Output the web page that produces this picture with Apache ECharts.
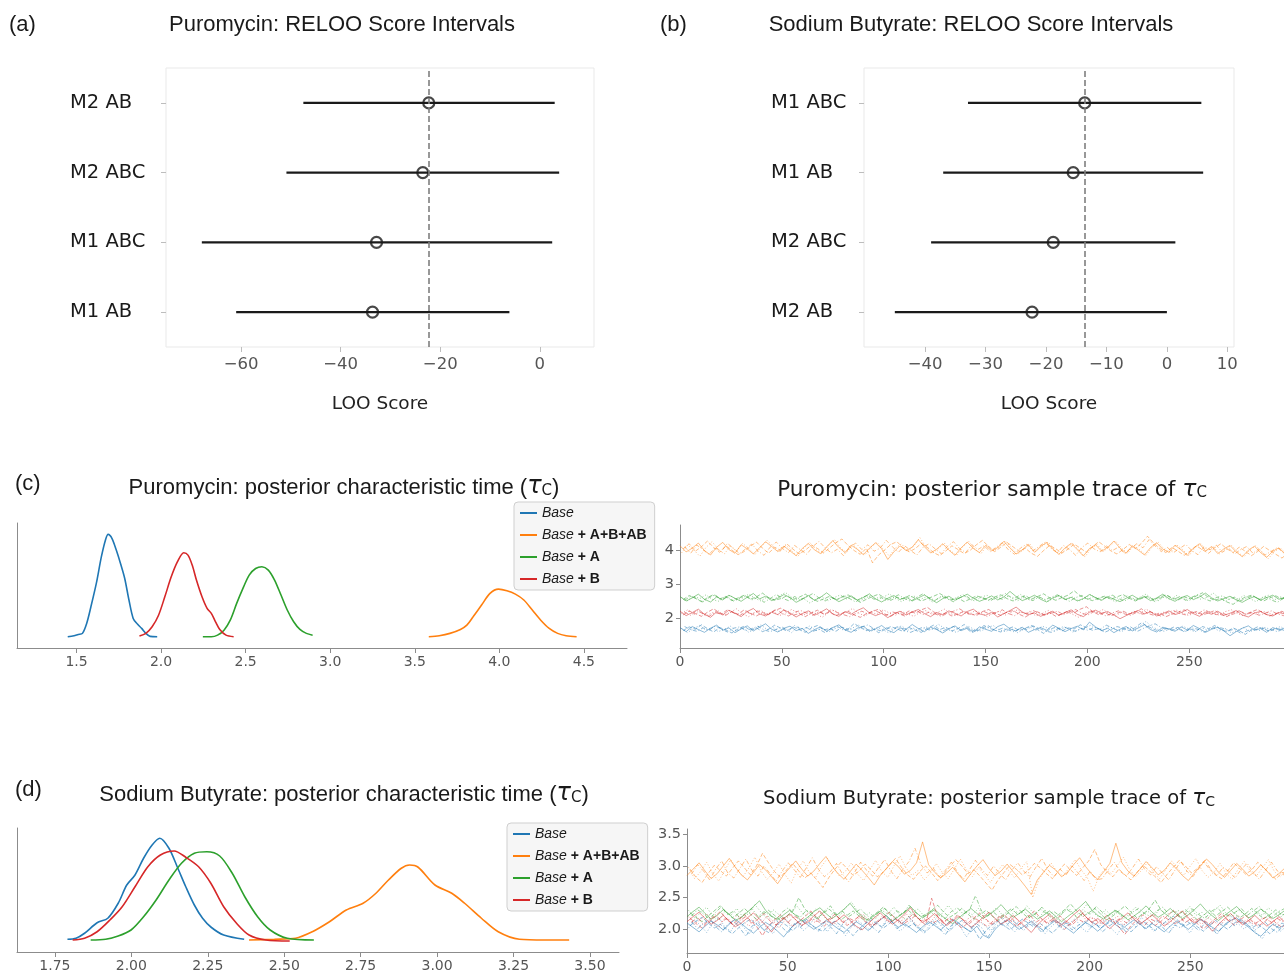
<!DOCTYPE html>
<html><head><meta charset="utf-8">
<script src="https://cdn.jsdelivr.net/npm/echarts@6/dist/echarts.min.js"></script>
<style>html,body{margin:0;padding:0;background:#fff}#c{width:1284px;height:978px}</style>
</head><body><div id="c"></div>
<script>
// ---------- (a) / (b) RELOO intervals ----------
const puroModels = ['M1 AB','M1 ABC','M2 ABC','M2 AB'];
const puroLow    = [-61.0,-67.9,-50.9,-47.5];
const puroHigh   = [-6.1, 2.5, 3.9, 3.0];
const puroPoint  = [-33.6,-32.8,-23.5,-22.3];
const puroRef    = -22.4;
const puroTicks  = [-60,-40,-20,0];

const sodiumModels = ['M2 AB','M2 ABC','M1 AB','M1 ABC'];
const sodiumLow    = [-45.0,-39.0,-37.0,-32.9];
const sodiumHigh   = [0.0, 1.4, 6.0, 5.7];
const sodiumPoint  = [-22.3,-18.8,-15.5,-13.6];
const sodiumRef    = -13.6;
const sodiumTicks  = [-40,-30,-20,-10,0,10];

// ---------- series names / colours ----------
const names  = ['Base','Base + A+B+AB','Base + A','Base + B'];
const colors = ['#1f77b4','#ff7f0e','#2ca02c','#d62728'];

// ---------- (c) Puromycin KDE ----------
const puroKdeTicks = [1.5,2.0,2.5,3.0,3.5,4.0,4.5];
const puroKdeBaseX = [1.448,1.485,1.51,1.535,1.56,1.585,1.617,1.647,1.672,1.687,1.71,1.735,1.76,1.785,1.81,1.835,1.86,1.885,1.91,1.935,1.977];
const puroKdeBaseY = [0.00,0.06,0.13,0.19,0.75,1.68,2.99,4.49,5.46,5.74,5.51,4.86,4.11,3.27,2.06,1.03,0.71,0.47,0.19,0.02,0.00];
const puroKdeABX = [3.583,3.645,3.708,3.77,3.808,3.845,3.895,3.945,3.995,4.045,4.095,4.145,4.195,4.245,4.295,4.345,4.395,4.457];
const puroKdeABY = [0.00,0.06,0.19,0.41,0.65,1.12,1.78,2.43,2.67,2.58,2.39,2.06,1.50,0.93,0.47,0.19,0.06,0.00];
const puroKdeAX = [2.247,2.297,2.334,2.372,2.409,2.447,2.484,2.521,2.559,2.596,2.634,2.671,2.709,2.746,2.784,2.821,2.859,2.896];
const puroKdeAY = [0.00,0.00,0.09,0.37,0.93,1.87,2.71,3.46,3.83,3.93,3.74,3.18,2.34,1.50,0.84,0.41,0.19,0.09];
const puroKdeBX = [1.872,1.91,1.947,1.985,2.022,2.06,2.097,2.134,2.159,2.184,2.209,2.242,2.272,2.297,2.322,2.347,2.384,2.429];
const puroKdeBY = [0.04,0.19,0.56,1.21,2.24,3.36,4.21,4.71,4.58,4.02,3.18,2.24,1.59,1.31,0.84,0.41,0.09,0.00];

// ---------- (d) Sodium Butyrate KDE ----------
const sodiumKdeTicks = [1.75,2.0,2.25,2.5,2.75,3.0,3.25,3.5];
const sodiumKdeBaseX = [1.791,1.819,1.847,1.888,1.923,1.957,1.985,2.012,2.04,2.068,2.093,2.123,2.15,2.178,2.206,2.233,2.261,2.302,2.369];
const sodiumKdeBaseY = [0.03,0.07,0.27,0.69,0.87,1.47,2.20,2.60,3.27,3.80,4.07,3.67,2.93,2.13,1.40,0.87,0.51,0.20,0.03];
const sodiumKdeABX = [2.385,2.468,2.537,2.592,2.648,2.703,2.758,2.80,2.841,2.883,2.91,2.938,2.993,3.048,3.09,3.145,3.2,3.269,3.352,3.432];
const sodiumKdeABY = [0.00,0.03,0.07,0.33,0.73,1.20,1.47,1.87,2.40,2.87,3.00,2.91,2.20,1.87,1.47,0.87,0.33,0.03,0.00,0.00];
const sodiumKdeAX = [1.867,1.916,1.957,1.999,2.04,2.081,2.123,2.164,2.206,2.247,2.289,2.33,2.371,2.413,2.454,2.51,2.597];
const sodiumKdeAY = [0.00,0.03,0.16,0.40,0.93,1.60,2.40,3.07,3.47,3.53,3.36,2.67,1.73,0.93,0.40,0.07,0.00];
const sodiumKdeBX = [1.808,1.847,1.888,1.93,1.97,2.012,2.054,2.095,2.14,2.178,2.22,2.26,2.302,2.344,2.385,2.44,2.518];
const sodiumKdeBY = [0.00,0.07,0.33,0.80,1.33,2.13,2.93,3.40,3.56,3.31,2.93,2.27,1.33,0.67,0.20,0.00,-0.04];

// ---------- trace samples (four chains each, one value every 3 draws) ----------
const traceStep = 3;
const chainOffsets = [0, 1.5, 0.75, 2.25];
const puroTraceTicksX = [0,50,100,150,200,250];
const puroTraceTicksY = [2,3,4];
const puroTraceBase1 = [1.72,1.60,1.75,1.66,1.58,1.70,1.79,1.64,1.71,1.57,1.68,1.77,1.62,1.73,1.83,1.67,1.59,1.70,1.76,1.63,1.69,1.55,1.66,1.74,1.61,1.72,1.80,1.65,1.58,1.70,1.76,1.62,1.68,1.78,1.64,1.57,1.71,1.67,1.81,1.69,1.60,1.73,1.66,1.56,1.68,1.77,1.63,1.70,1.59,1.74,1.67,1.61,1.75,1.82,1.68,1.62,1.73,1.58,1.66,1.72,1.64,1.79,1.70,1.60,1.69,1.76,1.65,1.88,1.74,1.63,1.70,1.57,1.67,1.75,1.62,1.71,1.80,1.66,1.59,1.73,1.68,1.61,1.74,1.65,1.78,1.69,1.58,1.67,1.73,1.62,1.48,1.60,1.70,1.77,1.64,1.69,1.58,1.72,1.65,1.71];
const puroTraceBase2 = [1.63,1.74,1.67,1.80,1.69,1.59,1.72,1.65,1.56,1.68,1.76,1.64,1.71,1.60,1.67,1.79,1.70,1.62,1.74,1.66,1.58,1.71,1.78,1.65,1.69,1.61,1.73,1.67,1.84,1.72,1.63,1.69,1.57,1.66,1.75,1.68,1.61,1.72,1.64,1.58,1.70,1.79,1.66,1.73,1.62,1.69,1.81,1.67,1.60,1.71,1.77,1.64,1.59,1.68,1.74,1.63,1.70,1.78,1.66,1.55,1.67,1.73,1.62,1.71,1.68,1.80,1.72,1.64,1.69,1.58,1.66,1.75,1.70,1.63,1.72,1.86,1.76,1.67,1.61,1.70,1.64,1.73,1.59,1.68,1.62,1.75,1.69,1.78,1.66,1.60,1.71,1.63,1.52,1.65,1.74,1.68,1.61,1.70,1.66,1.59];
const puroTraceBase3 = [1.69,1.57,1.70,1.78,1.64,1.73,1.60,1.67,1.76,1.62,1.71,1.58,1.68,1.80,1.66,1.72,1.61,1.69,1.57,1.74,1.66,1.77,1.63,1.70,1.59,1.68,1.75,1.62,1.71,1.79,1.67,1.60,1.73,1.65,1.56,1.69,1.77,1.64,1.70,1.61,1.74,1.67,1.82,1.70,1.63,1.58,1.68,1.75,1.66,1.62,1.71,1.78,1.65,1.60,1.69,1.57,1.67,1.74,1.63,1.76,1.70,1.61,1.68,1.73,1.59,1.66,1.72,1.79,1.69,1.64,1.75,1.67,1.60,1.71,1.65,1.77,1.90,1.74,1.66,1.61,1.70,1.63,1.76,1.68,1.59,1.72,1.65,1.71,1.62,1.69,1.56,1.64,1.72,1.60,1.67,1.73,1.63,1.68,1.75,1.64];
const puroTraceBase4 = [1.75,1.66,1.61,1.71,1.64,1.77,1.68,1.59,1.70,1.74,1.63,1.69,1.76,1.65,1.60,1.67,1.73,1.62,1.78,1.68,1.72,1.61,1.67,1.57,1.70,1.76,1.64,1.69,1.62,1.73,1.80,1.68,1.63,1.71,1.67,1.76,1.62,1.58,1.66,1.73,1.65,1.70,1.60,1.68,1.75,1.64,1.71,1.57,1.66,1.78,1.69,1.63,1.70,1.65,1.59,1.72,1.66,1.77,1.70,1.62,1.58,1.68,1.75,1.66,1.61,1.70,1.64,1.73,1.67,1.79,1.71,1.62,1.68,1.74,1.60,1.69,1.77,1.83,1.72,1.65,1.73,1.66,1.61,1.71,1.67,1.58,1.68,1.74,1.70,1.63,1.67,1.55,1.62,1.69,1.63,1.72,1.66,1.60,1.68,1.73];
const puroTraceAB1 = [4.12,3.94,4.05,4.20,3.98,3.85,4.08,4.22,4.01,3.90,4.15,4.03,3.88,4.06,4.24,4.10,3.95,4.11,3.97,3.83,4.04,4.19,4.00,3.89,4.09,4.27,4.07,3.92,4.14,4.02,3.86,4.05,4.21,4.03,3.72,3.94,4.12,3.98,4.08,4.30,4.09,3.91,4.02,4.18,3.99,3.84,4.06,4.23,4.04,3.92,4.13,3.97,4.07,4.25,4.05,3.88,4.00,4.16,3.93,4.10,4.22,4.02,3.87,4.06,4.19,4.01,3.82,4.04,4.15,3.96,4.08,4.26,4.05,3.90,4.12,3.99,3.85,4.07,4.21,4.02,3.93,4.14,4.00,3.84,4.05,4.18,3.97,4.10,3.89,4.03,4.13,3.94,3.80,3.99,4.11,3.92,3.78,3.96,4.06,3.88];
const puroTraceAB2 = [4.03,4.18,3.96,4.09,4.26,4.07,3.93,4.12,3.99,3.86,3.95,4.10,4.23,4.05,3.90,4.08,3.98,4.17,4.02,3.88,3.99,4.14,4.04,3.91,4.06,4.21,4.32,4.13,3.98,3.87,4.05,3.62,3.85,4.00,4.16,4.24,4.06,3.94,4.04,4.19,4.07,3.92,3.83,3.97,4.12,4.01,3.89,3.99,4.15,4.28,4.10,3.95,4.08,4.22,4.09,3.96,4.05,3.90,3.81,3.98,4.13,4.03,3.91,4.02,4.17,4.05,3.93,4.09,4.24,4.11,3.97,3.88,4.01,4.16,4.04,4.19,4.40,4.20,4.04,3.92,4.07,3.96,3.84,3.97,4.12,4.00,3.90,4.06,4.18,4.03,3.92,4.08,3.96,3.83,3.95,4.10,3.98,3.87,3.76,3.91];
const puroTraceAB3 = [3.91,4.14,4.00,3.81,4.07,4.24,4.02,3.88,4.11,3.96,4.19,4.04,3.86,4.08,4.28,4.10,3.93,4.15,3.98,3.80,4.05,4.21,4.01,3.89,4.12,4.31,4.06,3.92,4.16,3.99,3.85,4.08,4.22,4.02,3.82,4.05,4.18,3.95,4.11,4.36,4.08,3.90,4.03,4.20,3.98,3.84,4.09,4.25,4.02,3.89,4.14,3.97,4.08,4.27,4.05,3.87,4.01,4.17,3.94,4.11,4.23,4.01,3.85,4.07,4.19,4.00,3.79,4.04,4.16,3.95,4.09,4.26,4.05,3.90,4.13,4.00,3.84,4.08,4.22,4.02,3.92,4.15,4.01,3.82,4.06,4.18,3.97,4.10,3.88,4.03,4.13,3.94,3.79,4.00,4.12,3.92,3.74,3.95,4.06,3.87];
const puroTraceAB4 = [4.09,3.90,4.14,4.01,3.86,4.07,3.95,4.19,4.05,3.89,4.03,4.17,3.97,3.84,4.08,4.23,4.04,3.92,4.13,4.00,3.87,4.10,4.25,4.06,3.91,4.02,3.83,4.07,4.20,4.01,4.15,3.96,4.05,4.28,4.09,3.93,4.12,3.98,3.85,4.07,4.18,4.03,3.89,4.10,4.24,4.04,3.92,4.15,4.01,4.12,3.95,4.08,4.21,4.00,3.87,4.06,4.17,3.97,4.10,4.23,4.04,3.91,4.13,4.01,3.84,4.07,4.20,4.03,3.94,4.12,3.98,4.08,3.89,4.04,4.18,4.06,4.30,4.11,3.95,4.07,3.92,4.04,4.16,3.98,3.86,4.09,4.00,4.14,3.93,4.05,3.88,4.01,4.10,3.90,4.03,3.85,3.96,4.07,3.91,3.82];
const puroTraceA1 = [2.63,2.50,2.59,2.70,2.55,2.47,2.62,2.53,2.67,2.58,2.49,2.61,2.72,2.56,2.64,2.51,2.58,2.69,2.60,2.46,2.55,2.66,2.52,2.61,2.74,2.59,2.48,2.57,2.65,2.53,2.60,2.71,2.56,2.47,2.58,2.66,2.54,2.62,2.50,2.59,2.68,2.55,2.45,2.57,2.64,2.52,2.61,2.70,2.58,2.49,2.56,2.65,2.53,2.62,2.78,2.63,2.51,2.58,2.67,2.55,2.47,2.59,2.66,2.54,2.61,2.50,2.57,2.69,2.60,2.52,2.63,2.55,2.48,2.58,2.67,2.56,2.62,2.51,2.59,2.70,2.57,2.49,2.60,2.66,2.54,2.62,2.73,2.59,2.50,2.57,2.64,2.53,2.46,2.56,2.63,2.52,2.60,2.67,2.55,2.61];
const puroTraceA2 = [2.54,2.66,2.58,2.48,2.60,2.69,2.56,2.63,2.51,2.59,2.67,2.55,2.62,2.73,2.60,2.52,2.57,2.65,2.54,2.61,2.70,2.58,2.49,2.56,2.64,2.53,2.61,2.68,2.57,2.46,2.55,2.63,2.70,2.59,2.52,2.61,2.56,2.66,2.58,2.50,2.57,2.64,2.72,2.61,2.54,2.59,2.48,2.56,2.65,2.60,2.53,2.62,2.68,2.57,2.50,2.59,2.66,2.55,2.63,2.71,2.59,2.52,2.60,2.67,2.80,2.65,2.57,2.51,2.58,2.64,2.55,2.62,2.69,2.58,2.50,2.57,2.63,2.54,2.61,2.68,2.59,2.53,2.62,2.56,2.65,2.74,2.60,2.52,2.58,2.47,2.40,2.53,2.61,2.67,2.57,2.50,2.59,2.65,2.56,2.62];
const puroTraceA3 = [2.60,2.51,2.64,2.57,2.68,2.55,2.49,2.61,2.66,2.53,2.59,2.70,2.58,2.50,2.62,2.54,2.65,2.75,2.61,2.52,2.57,2.44,2.55,2.63,2.51,2.60,2.68,2.56,2.62,2.49,2.58,2.66,2.53,2.61,2.71,2.57,2.48,2.59,2.65,2.54,2.62,2.47,2.57,2.66,2.52,2.60,2.69,2.56,2.50,2.61,2.67,2.54,2.62,2.72,2.58,2.51,2.60,2.53,2.64,2.57,2.49,2.60,2.66,2.55,2.62,2.50,2.58,2.69,2.54,2.63,2.58,2.47,2.59,2.65,2.53,2.61,2.70,2.57,2.51,2.62,2.54,2.66,2.59,2.50,2.63,2.55,2.61,2.73,2.58,2.49,2.61,2.54,2.66,2.57,2.48,2.60,2.67,2.53,2.62,2.56];
const puroTraceA4 = [2.52,2.64,2.57,2.47,2.60,2.68,2.54,2.62,2.50,2.59,2.66,2.53,2.61,2.46,2.57,2.69,2.58,2.51,2.63,2.55,2.62,2.72,2.59,2.50,2.61,2.54,2.65,2.57,2.47,2.60,2.67,2.55,2.62,2.51,2.59,2.68,2.57,2.49,2.61,2.71,2.59,2.52,2.64,2.56,2.48,2.60,2.66,2.53,2.62,2.57,2.50,2.61,2.55,2.65,2.58,2.69,2.57,2.51,2.62,2.54,2.61,2.68,2.58,2.49,2.60,2.66,2.55,2.63,2.52,2.61,2.67,2.57,2.50,2.61,2.53,2.64,2.59,2.48,2.60,2.66,2.55,2.62,2.52,2.61,2.69,2.57,2.50,2.60,2.65,2.54,2.61,2.51,2.58,2.66,2.55,2.62,2.53,2.46,2.58,2.65];
const puroTraceB1 = [2.20,2.07,2.16,2.26,2.11,2.02,2.18,2.09,2.23,2.14,2.04,2.19,2.28,2.12,2.06,2.17,2.10,2.24,2.15,2.03,2.13,2.21,2.08,2.17,2.27,2.12,2.05,2.19,2.11,2.22,2.30,2.15,2.07,2.14,2.01,2.12,2.20,2.09,2.18,2.25,2.13,2.04,2.16,2.10,2.21,2.14,2.06,2.19,2.26,2.12,2.08,2.17,2.03,2.13,2.22,2.32,2.18,2.10,2.15,2.05,2.12,2.20,2.08,2.16,2.24,2.11,2.04,2.17,2.23,2.14,2.19,2.09,1.98,2.07,2.15,2.22,2.12,2.18,2.06,2.13,2.21,2.10,2.16,2.25,2.13,2.05,2.17,2.11,2.20,2.08,2.14,2.22,2.09,2.03,2.15,2.19,2.10,2.06,2.16,2.12];
const puroTraceB2 = [2.09,2.21,2.13,2.05,2.17,2.27,2.15,2.08,2.19,2.11,2.24,2.14,2.06,2.16,2.10,2.22,2.29,2.17,2.08,2.13,2.04,2.15,2.23,2.11,2.18,2.07,2.14,2.20,2.09,2.02,2.13,2.19,2.26,2.12,2.05,2.16,2.10,2.21,2.14,2.24,2.31,2.18,2.09,2.15,2.06,2.12,2.20,2.13,2.07,2.19,2.25,2.14,2.08,2.17,2.22,2.11,2.03,2.13,2.18,2.10,2.16,2.05,2.12,2.21,2.15,2.26,2.33,2.19,2.10,2.16,2.07,2.14,2.20,2.12,2.18,2.27,2.14,2.08,2.15,2.04,2.11,2.17,2.24,2.13,2.19,2.09,2.15,2.22,2.10,2.04,2.16,2.21,2.11,2.18,2.25,2.14,2.06,2.13,2.20,2.09];
const puroTraceB3 = [2.13,2.24,2.10,2.18,2.06,2.15,2.21,2.08,2.17,2.27,2.12,2.04,2.16,2.22,2.11,2.19,2.07,2.14,2.25,2.16,2.09,2.20,2.13,2.02,2.15,2.23,2.10,2.18,2.28,2.14,2.06,2.17,2.11,2.24,2.15,2.08,2.19,2.12,2.05,2.16,2.22,2.10,2.17,2.26,2.13,2.07,2.18,2.11,2.21,2.15,2.04,2.14,2.20,2.09,2.17,2.24,2.12,2.19,2.06,2.13,2.22,2.15,2.08,2.18,2.11,2.02,2.14,2.21,2.16,2.25,2.12,2.06,2.17,2.10,2.20,2.13,2.26,2.16,2.09,2.18,2.11,2.23,2.15,2.07,2.17,2.12,2.21,2.14,2.08,2.19,2.24,2.13,2.06,2.16,2.11,2.20,2.15,2.09,2.17,2.12];
const puroTraceB4 = [2.17,2.08,2.22,2.13,2.05,2.16,2.11,2.24,2.15,2.07,2.18,2.12,2.21,2.09,2.15,2.26,2.13,2.06,2.17,2.22,2.14,2.08,2.19,2.11,2.25,2.16,2.10,2.04,2.13,2.20,2.12,2.23,2.15,2.08,2.18,2.13,2.06,2.16,2.21,2.10,2.17,2.12,2.05,2.14,2.20,2.27,2.16,2.09,2.13,2.19,2.11,2.16,2.24,2.13,2.07,2.18,2.12,2.22,2.15,2.08,2.14,2.20,2.10,2.17,2.25,2.14,2.09,2.19,2.13,2.06,2.15,2.21,2.12,2.08,2.17,2.11,2.20,2.13,2.05,2.16,2.22,2.14,2.09,2.18,2.12,2.24,2.16,2.10,2.15,2.07,2.13,2.19,2.11,2.17,2.08,2.14,2.21,2.12,2.07,2.16];

const sodiumTraceTicksX = [0,50,100,150,200,250];
const sodiumTraceTicksY = [2.0,2.5,3.0,3.5];
const sodiumTraceBase1 = [2.10,2.03,1.96,2.05,2.13,2.07,1.99,2.08,2.16,2.09,2.01,1.94,2.03,2.11,2.05,1.97,1.88,2.00,2.09,2.15,2.07,2.00,2.06,2.14,2.08,2.01,1.95,2.04,2.12,2.06,1.98,2.07,2.15,2.22,2.11,2.03,2.09,2.02,1.95,2.04,2.12,2.06,1.99,2.08,2.16,2.09,2.02,1.96,2.05,1.91,1.86,2.00,2.09,2.15,2.07,2.00,2.06,2.13,2.05,1.98,2.07,2.14,2.08,2.01,1.94,2.03,2.11,2.05,1.97,2.06,2.14,2.07,2.00,2.08,2.15,2.08,2.01,2.09,2.03,1.96,2.05,2.13,2.07,2.00,2.08,2.16,2.10,2.03,1.97,2.06,2.14,2.18,2.10,2.03,1.95,1.89,1.99,2.08,2.02,2.07];
const sodiumTraceBase2 = [2.06,2.13,2.19,2.10,2.02,2.08,2.00,1.93,2.02,2.10,2.16,2.08,2.01,1.95,2.04,2.12,2.06,1.98,2.07,2.14,2.08,2.01,1.97,2.06,2.13,2.06,1.99,1.90,2.01,2.09,2.15,2.08,2.02,2.09,2.17,2.10,2.03,2.09,2.02,1.96,2.05,2.13,2.06,1.98,2.07,2.14,2.08,2.00,1.84,1.98,2.07,2.13,2.06,1.99,2.08,2.16,2.10,2.03,2.09,2.01,1.94,2.04,2.12,2.06,1.99,2.07,2.15,2.09,2.02,2.08,2.16,2.10,2.03,1.96,2.05,2.12,2.06,1.98,2.06,2.14,2.21,2.12,2.05,2.11,2.04,1.97,2.06,2.14,2.07,2.00,2.09,2.16,2.09,2.02,2.08,2.01,1.93,2.02,2.10,2.04];
const sodiumTraceBase3 = [2.02,2.15,2.06,1.95,2.10,2.19,2.04,1.97,2.12,2.05,1.92,2.07,2.16,2.01,1.93,2.09,2.18,2.03,2.11,1.98,2.06,2.20,2.08,1.96,2.13,2.02,1.90,2.05,2.14,2.07,1.99,2.12,2.04,2.18,2.09,1.97,2.06,2.15,2.01,1.94,2.08,2.17,2.03,1.95,2.11,2.04,1.88,2.02,2.13,2.06,1.98,2.10,2.19,2.05,1.96,2.08,2.02,2.14,2.07,1.93,2.04,2.12,1.99,2.09,2.17,2.03,1.95,2.10,2.05,2.15,2.01,1.92,2.07,2.13,2.04,2.19,2.08,1.97,2.06,2.12,2.00,2.10,2.05,1.94,2.09,2.16,2.04,1.96,2.11,2.06,2.21,2.09,2.00,2.12,1.93,1.85,2.03,2.10,1.97,2.05];
const sodiumTraceBase4 = [2.12,2.01,2.09,2.17,2.04,1.96,2.08,2.14,2.02,1.89,2.05,2.11,1.98,2.07,2.15,2.03,1.94,2.09,2.02,2.16,2.06,1.97,2.11,2.04,1.93,2.08,2.17,2.05,1.99,2.12,2.03,1.95,2.09,2.14,2.01,2.10,2.20,2.06,1.98,2.08,2.13,2.02,1.91,2.06,2.12,2.04,1.97,2.10,2.03,1.87,2.01,2.09,2.04,2.15,2.07,1.98,2.11,2.05,1.95,2.08,2.14,2.03,2.10,1.99,2.06,2.13,2.02,2.09,1.96,2.04,2.11,2.07,1.95,2.05,2.12,2.01,2.08,2.15,2.03,1.94,2.07,2.02,2.13,2.06,1.98,2.10,2.04,1.92,2.06,2.13,2.05,2.16,2.08,1.97,2.04,2.11,2.01,1.95,2.07,2.02];
const sodiumTraceAB1 = [2.85,2.95,3.05,2.92,2.80,2.88,3.00,3.12,2.98,2.86,2.78,2.90,3.02,2.94,2.83,2.72,2.86,2.97,3.08,2.95,2.84,2.92,3.04,3.15,3.00,2.88,2.79,2.91,3.03,2.93,2.82,2.70,2.85,2.96,3.07,2.99,2.87,2.93,3.05,3.38,3.02,2.90,2.81,2.89,2.98,2.86,2.75,2.88,3.00,3.10,2.96,2.85,2.92,3.03,2.91,2.80,2.68,2.55,2.78,2.90,3.01,2.94,2.83,2.90,3.02,3.13,2.99,2.87,2.79,2.91,3.04,3.36,3.05,2.92,2.84,2.95,3.07,2.97,2.86,2.93,3.05,2.96,2.85,2.77,2.89,3.00,3.11,3.02,2.90,2.82,2.93,3.04,2.95,2.84,2.91,3.02,2.92,2.81,2.88,2.97];
const sodiumTraceAB2 = [2.95,2.82,2.74,2.88,3.01,2.93,2.84,2.96,3.08,2.97,2.86,3.00,3.20,3.05,2.91,2.82,2.94,3.04,2.92,2.81,2.89,2.78,2.66,2.82,2.95,3.06,2.96,2.85,2.92,3.03,2.94,2.83,2.90,3.01,3.12,2.98,2.86,2.79,2.91,3.00,2.89,2.77,2.87,2.99,3.10,3.00,2.88,2.94,2.84,2.73,2.62,2.78,2.90,3.02,2.95,2.86,2.93,3.04,2.97,2.88,2.80,2.92,3.03,2.94,2.85,2.97,3.08,3.26,3.02,2.91,2.83,2.95,2.86,2.78,2.90,3.01,2.93,2.83,2.74,2.87,2.98,3.09,3.00,2.89,2.96,3.07,2.95,2.86,2.80,2.92,3.05,2.96,2.87,2.94,3.06,2.97,2.88,2.79,2.90,2.84];
const sodiumTraceAB3 = [2.98,2.80,2.91,3.06,2.88,2.76,2.93,3.10,2.95,2.83,2.97,3.14,2.92,2.79,2.89,3.03,2.86,2.73,2.94,3.08,2.90,2.81,2.99,3.12,2.96,2.84,2.92,3.05,2.87,2.77,2.94,3.09,2.91,2.82,3.00,3.16,2.97,2.85,2.93,2.78,2.88,3.04,2.90,2.80,2.95,3.11,2.94,2.83,2.98,2.86,2.74,2.90,3.02,2.93,2.81,2.96,3.07,2.50,2.79,2.92,3.05,2.91,2.84,2.97,3.10,2.94,2.82,2.60,2.85,2.96,2.88,3.01,3.14,2.95,2.83,2.93,3.06,2.89,2.80,2.94,3.08,2.96,2.85,2.99,3.12,2.93,2.82,2.90,3.04,2.88,2.79,2.95,3.07,2.92,2.84,2.97,3.10,2.91,2.83,2.96];
const sodiumTraceAB4 = [2.87,3.02,2.92,2.78,2.95,3.08,2.89,2.81,2.96,3.11,2.93,2.84,3.00,2.88,2.76,2.92,3.05,2.94,2.82,2.97,3.13,2.95,2.83,2.91,3.04,2.87,2.75,2.90,3.06,2.93,2.84,2.98,3.10,2.92,2.80,2.95,3.07,3.28,3.02,2.89,2.97,2.83,2.93,3.06,2.91,2.79,2.94,3.09,2.95,2.85,3.00,2.88,2.78,2.93,3.05,2.92,2.82,2.98,3.12,2.94,2.83,2.95,2.86,3.00,2.89,2.77,2.92,2.78,2.80,2.94,3.06,2.91,2.84,2.97,3.11,2.95,2.86,2.99,2.88,2.78,2.93,3.07,2.92,2.83,2.96,3.09,2.94,2.85,2.98,2.91,2.81,2.95,3.04,2.90,2.79,2.93,3.06,2.92,2.86,2.99];
const sodiumTraceA1 = [2.20,2.28,2.35,2.25,2.16,2.22,2.31,2.24,2.14,2.19,2.27,2.36,2.45,2.30,2.21,2.15,2.23,2.30,2.22,2.13,2.19,2.28,2.34,2.25,2.17,2.24,2.32,2.41,2.29,2.20,2.14,2.22,2.29,2.21,2.13,2.20,2.27,2.36,2.26,2.18,2.24,2.31,2.23,2.15,2.09,2.18,2.26,2.33,2.25,2.17,2.23,2.30,2.39,2.28,2.19,2.25,2.32,2.24,2.16,2.22,2.29,2.21,2.12,2.20,2.27,2.35,2.44,2.31,2.22,2.16,2.24,2.30,2.23,2.15,2.21,2.28,2.37,2.27,2.19,2.25,2.33,2.24,2.17,2.23,2.31,2.40,2.29,2.21,2.14,2.22,2.29,2.36,2.26,2.18,2.24,2.32,2.25,2.17,2.23,2.30];
const sodiumTraceA2 = [2.26,2.19,2.12,2.21,2.29,2.37,2.27,2.18,2.25,2.33,2.24,2.16,2.23,2.30,2.22,2.14,2.21,2.28,2.50,2.32,2.23,2.17,2.25,2.32,2.24,2.15,2.22,2.29,2.21,2.13,2.20,2.27,2.35,2.26,2.18,2.24,2.31,2.23,2.16,2.22,2.30,2.38,2.27,2.19,2.25,2.33,2.24,2.16,2.23,2.30,2.21,2.14,2.21,2.28,2.36,2.26,2.18,2.24,2.32,2.25,2.17,2.23,2.31,2.40,2.29,2.20,2.26,2.33,2.24,2.15,2.21,2.29,2.37,2.27,2.18,2.24,2.32,2.46,2.30,2.22,2.16,2.24,2.31,2.23,2.15,2.22,2.30,2.21,2.28,2.35,2.26,2.18,2.25,2.33,2.24,2.17,2.23,2.31,2.22,2.27];
const sodiumTraceA3 = [2.30,2.18,2.26,2.35,2.21,2.14,2.28,2.22,2.33,2.19,2.25,2.39,2.27,2.17,2.31,2.23,2.16,2.29,2.36,2.24,2.19,2.32,2.25,2.14,2.27,2.21,2.34,2.43,2.28,2.20,2.26,2.17,2.30,2.24,2.35,2.22,2.15,2.27,2.32,2.21,2.29,2.19,2.25,2.38,2.26,2.16,2.28,2.23,2.33,2.20,2.26,2.34,2.22,2.17,2.29,2.24,2.37,2.27,2.18,2.30,2.23,2.15,2.27,2.33,2.21,2.28,2.40,2.26,2.19,2.31,2.22,2.28,2.16,2.25,2.35,2.23,2.29,2.20,2.32,2.24,2.18,2.30,2.25,2.36,2.22,2.27,2.17,2.29,2.38,2.25,2.20,2.31,2.24,2.16,2.28,2.22,2.34,2.26,2.19,2.29];
const sodiumTraceA4 = [2.21,2.31,2.24,2.16,2.27,2.36,2.23,2.29,2.18,2.26,2.33,2.20,2.28,2.22,2.15,2.27,2.34,2.24,2.19,2.30,2.25,2.17,2.29,2.37,2.23,2.28,2.20,2.26,2.32,2.22,2.16,2.27,2.33,2.21,2.29,2.24,2.38,2.27,2.20,2.25,2.31,2.22,2.17,2.28,2.34,2.24,2.30,2.53,2.29,2.21,2.27,2.19,2.26,2.33,2.23,2.30,2.18,2.25,2.35,2.24,2.28,2.21,2.32,2.26,2.17,2.29,2.24,2.36,2.27,2.21,2.30,2.23,2.18,2.27,2.33,2.25,2.20,2.29,2.35,2.24,2.30,2.19,2.26,2.32,2.23,2.17,2.28,2.34,2.25,2.21,2.27,2.33,2.22,2.29,2.36,2.24,2.18,2.27,2.32,2.23];
const sodiumTraceB1 = [2.12,2.20,2.27,2.17,2.08,2.14,2.22,2.13,2.04,2.10,2.18,2.26,2.16,2.07,1.96,2.09,2.17,2.24,2.15,2.06,2.12,2.21,2.29,2.18,2.09,2.15,2.23,2.14,2.05,1.99,2.09,2.18,2.26,2.16,2.08,2.15,2.24,2.34,2.20,2.11,2.17,2.25,2.15,2.06,2.13,2.21,2.12,2.03,2.10,2.19,2.27,2.17,2.08,2.14,2.22,2.13,2.04,1.95,2.07,2.16,2.24,2.15,2.07,2.14,2.23,2.31,2.20,2.11,2.17,2.09,2.01,2.10,2.18,2.26,2.16,2.08,2.15,2.23,2.14,2.05,2.12,2.21,2.29,2.18,2.10,2.16,2.08,1.97,2.08,2.17,2.25,2.15,2.07,2.14,2.22,2.13,2.05,2.12,2.20,2.11];
const sodiumTraceB2 = [2.18,2.09,2.02,2.11,2.19,2.28,2.17,2.08,2.15,2.23,2.14,2.05,1.90,2.06,2.15,2.23,2.13,2.05,2.12,2.20,2.29,2.18,2.10,2.16,2.24,2.14,2.06,2.13,2.21,2.12,2.04,2.11,2.19,2.27,2.17,2.09,2.16,2.25,2.15,2.07,2.49,2.20,2.12,2.18,2.10,2.02,2.10,2.18,2.26,2.16,2.08,2.15,2.23,2.14,2.05,2.12,2.20,2.29,2.18,2.10,2.16,2.08,2.00,2.09,2.17,2.25,2.15,2.07,2.14,2.22,2.13,2.04,1.92,2.06,2.15,2.23,2.14,2.06,2.13,2.21,2.30,2.19,2.11,2.17,2.09,2.01,2.09,2.17,2.25,2.15,2.07,2.14,2.22,2.13,2.05,2.11,2.19,2.10,2.03,2.12];
const sodiumTraceB3 = [2.20,2.08,2.16,2.25,2.11,2.03,2.18,2.10,2.22,2.14,2.05,2.17,2.09,2.21,2.13,2.02,2.15,2.24,2.12,2.06,2.19,2.10,2.27,2.15,2.07,2.17,2.11,2.04,2.16,2.23,2.13,2.06,2.20,2.12,2.18,2.09,2.25,2.14,2.05,2.16,2.11,2.22,2.08,2.17,2.13,2.04,2.15,2.21,2.10,2.18,2.07,2.14,2.23,2.12,2.19,2.08,2.16,2.11,2.01,2.14,2.20,2.10,2.17,2.06,2.15,2.24,2.13,2.19,2.09,2.16,2.12,2.21,2.06,2.14,2.19,2.10,2.17,2.24,2.13,2.07,2.18,2.11,2.16,2.25,2.14,2.08,2.19,2.12,2.06,2.17,2.13,2.22,2.10,2.16,2.09,2.18,2.14,2.05,2.15,2.20];
const sodiumTraceB4 = [2.11,2.19,2.07,2.15,2.23,2.12,2.18,2.04,2.14,2.20,2.09,2.16,2.25,2.13,2.07,2.18,2.11,2.21,2.15,2.08,2.17,2.12,2.05,2.16,2.22,2.10,2.18,2.13,2.24,2.11,2.06,2.15,2.20,2.12,2.17,2.08,2.14,2.21,2.13,2.19,2.10,2.16,2.07,2.13,2.22,2.15,2.09,2.17,2.11,2.04,2.14,2.20,2.12,2.18,2.06,2.15,2.23,2.11,2.17,2.09,2.15,2.21,2.13,2.07,2.16,2.11,2.19,2.14,2.08,2.18,2.12,2.17,2.10,2.20,2.14,2.06,2.16,2.12,2.21,2.15,2.09,2.14,2.19,2.11,2.17,2.13,2.07,2.16,2.22,2.12,2.18,2.10,2.15,2.08,2.13,2.19,2.11,2.17,2.12,2.09];

// ---------- build ----------
const chart = echarts.init(document.getElementById('c'), null, {renderer:'canvas', width:1284, height:978});
const DJ = 'DejaVu Sans', LS = 'Liberation Sans';
const minusFmt = v => (v < 0 ? '\u2212' + Math.abs(v) : String(v));
const chainDash = ['solid', [4,2], [1,2], [4,2,1,2]];

function forestSeries(g, cats, low, high, point, ref) {
  return [{
    type:'custom', xAxisIndex:g, yAxisIndex:g, silent:true, z:2,
    data: cats.map((c,i)=>[low[i], high[i], i]),
    encode:{x:[0,1], y:2},
    renderItem:(p, api) => {
      const a = api.coord([api.value(0), api.value(2)]);
      const b = api.coord([api.value(1), api.value(2)]);
      return {type:'line', shape:{x1:a[0],y1:a[1],x2:b[0],y2:b[1]}, style:{stroke:'#1a1a1a', lineWidth:2.4}};
    }
  },{
    type:'scatter', xAxisIndex:g, yAxisIndex:g, silent:true, z:3,
    data: cats.map((c,i)=>[point[i], i]),
    symbol:'circle', symbolSize:11,
    itemStyle:{color:'rgba(0,0,0,0)', borderColor:'#1a1a1a', borderWidth:2.2},
    markLine:{silent:true, symbol:'none', label:{show:false}, animation:false,
      lineStyle:{type:[6,3], color:'#7f7f7f', width:1.6}, data:[{xAxis:ref}]}
  }];
}
function kdeSeries(g, idx, xs, ys) {
  return {type:'line', name:names[idx], xAxisIndex:g, yAxisIndex:g, silent:true,
    data: xs.map((x,i)=>[x, ys[i]]), smooth:0.3, showSymbol:false,
    lineStyle:{width:1.6, color:colors[idx]}, itemStyle:{color:colors[idx]}};
}
function traceSeries(g, idx, chains) {
  return chains.map((vals, c) => ({
    type:'line', name:names[idx], xAxisIndex:g, yAxisIndex:g, silent:true,
    data: vals.map((v,i)=>[i*traceStep + chainOffsets[c], v]), showSymbol:false,
    lineStyle:{width:1, color:colors[idx], opacity:0.5, type:chainDash[c]},
    itemStyle:{color:colors[idx]}}));
}

function forestX(g, min, max, ticks) {
  return {gridIndex:g, type:'value', min, max, splitLine:{show:false},
    axisLine:{show:false, onZero:false},
    axisTick:{show:true, customValues:ticks, length:5, lineStyle:{color:'#bdbdbd'}},
    axisLabel:{customValues:ticks, formatter:minusFmt, color:'#555', fontSize:16.5, fontFamily:DJ, margin:9},
    name:'LOO Score', nameLocation:'middle', nameGap:48,
    nameTextStyle:{fontSize:18.5, fontFamily:DJ, color:'#222'}};
}
function forestY(g, cats, margin) {
  return {gridIndex:g, type:'category', data:cats, splitLine:{show:false},
    axisLine:{show:false, onZero:false},
    axisTick:{show:true, alignWithLabel:true, length:5, lineStyle:{color:'#bdbdbd'}},
    axisLabel:{align:'left', margin, fontSize:19.5, fontFamily:DJ, color:'#1a1a1a'}};
}
const spine = {show:true, onZero:false, lineStyle:{color:'#8c8c8c', width:1}};
function plainX(g, min, max, ticks, dec) {
  return {gridIndex:g, type:'value', min, max, splitLine:{show:false}, axisLine:spine,
    axisTick:{show:true, customValues:ticks, length:5, lineStyle:{color:'#8c8c8c'}},
    axisLabel:{customValues:ticks, formatter:v=>dec==null?String(v):v.toFixed(dec), color:'#555', fontSize:14, fontFamily:DJ, margin:7}};
}
function kdeY(g, min, max) {
  return {gridIndex:g, type:'value', min, max, splitLine:{show:false}, axisLine:spine,
    axisTick:{show:false}, axisLabel:{show:false}};
}
function traceY(g, min, max, ticks, dec) {
  return {gridIndex:g, type:'value', min, max, splitLine:{show:false}, axisLine:spine,
    axisTick:{show:true, customValues:ticks, length:4, lineStyle:{color:'#8c8c8c'}},
    axisLabel:{customValues:ticks, formatter:v=>dec==null?String(v):v.toFixed(dec), color:'#555', fontSize:14.5, fontFamily:DJ, margin:6}};
}

const legendBase = {
  orient:'vertical', selectedMode:false, data:names,
  icon:'rect', itemWidth:17, itemHeight:2, itemGap:6, padding:[3,8,3,6],
  backgroundColor:'#f6f6f6', borderColor:'#cfcfcf', borderWidth:1, borderRadius:4,
  formatter: n => n === 'Base' ? '{i|Base}' : '{i|Base}{b| + ' + n.slice(7) + '}',
  textStyle:{fontSize:14, lineHeight:16, fontFamily:LS, color:'#1a1a1a',
    rich:{i:{fontStyle:'italic', fontSize:14, lineHeight:16, fontFamily:LS, color:'#1a1a1a'},
          b:{fontWeight:'bold', fontSize:14, lineHeight:16, fontFamily:LS, color:'#1a1a1a'}}}
};

function txt(x, y, text, font, align, rich) {
  const st = {text, font, fill:'#1a1a1a', align, textAlign:align, verticalAlign:'middle', textVerticalAlign:'middle'};
  if (rich) st.rich = rich;
  return {type:'text', x, y, silent:true, style:st};
}
function tauRich(fam, size, cSize) {
  return {
    n:{fontFamily:fam, fontSize:size, fill:'#1a1a1a', color:'#1a1a1a', lineHeight:28, verticalAlign:'bottom'},
    t:{fontFamily:DJ, fontStyle:'italic', fontSize:size+2, fill:'#1a1a1a', color:'#1a1a1a', lineHeight:28, verticalAlign:'bottom'},
    s:{fontFamily:DJ, fontSize:cSize, fill:'#1a1a1a', color:'#1a1a1a', lineHeight:26, verticalAlign:'bottom'}
  };
}

const option = {
  animation:false,
  backgroundColor:'#ffffff',
  textStyle:{fontFamily:DJ},
  grid:[
    {left:166, top:68, width:428, height:279, show:true, borderColor:'#e9e9e9', borderWidth:1, backgroundColor:'transparent'},
    {left:864, top:68, width:370, height:279, show:true, borderColor:'#e9e9e9', borderWidth:1, backgroundColor:'transparent'},
    {left:17, top:523, width:610, height:125},
    {left:680, top:525, right:0, height:123},
    {left:17, top:828, width:602, height:124},
    {left:687, top:829, right:0, height:124}
  ],
  xAxis:[
    forestX(0, -75.1, 10.9, puroTicks),
    forestX(1, -50.1, 11.1, sodiumTicks),
    plainX(2, 1.148, 4.755, puroKdeTicks, 1),
    plainX(3, 0, 296.5, puroTraceTicksX, null),
    plainX(4, 1.626, 3.595, sodiumKdeTicks, 2),
    plainX(5, 0, 296.5, sodiumTraceTicksX, null)
  ],
  yAxis:[
    forestY(0, puroModels, 96),
    forestY(1, sodiumModels, 93),
    kdeY(2, -0.63, 6.38),
    traceY(3, 1.12, 4.73, puroTraceTicksY, null),
    kdeY(4, -0.48, 4.48),
    traceY(5, 1.626, 3.584, sodiumTraceTicksY, 1)
  ],
  legend:[
    Object.assign({}, legendBase, {left:514, top:502}),
    Object.assign({}, legendBase, {left:507, top:823})
  ],
  series:[
    ...forestSeries(0, puroModels, puroLow, puroHigh, puroPoint, puroRef),
    ...forestSeries(1, sodiumModels, sodiumLow, sodiumHigh, sodiumPoint, sodiumRef),
    kdeSeries(2, 0, puroKdeBaseX, puroKdeBaseY),
    kdeSeries(2, 1, puroKdeABX, puroKdeABY),
    kdeSeries(2, 2, puroKdeAX, puroKdeAY),
    kdeSeries(2, 3, puroKdeBX, puroKdeBY),
    kdeSeries(4, 0, sodiumKdeBaseX, sodiumKdeBaseY),
    kdeSeries(4, 1, sodiumKdeABX, sodiumKdeABY),
    kdeSeries(4, 2, sodiumKdeAX, sodiumKdeAY),
    kdeSeries(4, 3, sodiumKdeBX, sodiumKdeBY),
    ...traceSeries(3, 0, [puroTraceBase1, puroTraceBase2, puroTraceBase3, puroTraceBase4]),
    ...traceSeries(3, 1, [puroTraceAB1, puroTraceAB2, puroTraceAB3, puroTraceAB4]),
    ...traceSeries(3, 2, [puroTraceA1, puroTraceA2, puroTraceA3, puroTraceA4]),
    ...traceSeries(3, 3, [puroTraceB1, puroTraceB2, puroTraceB3, puroTraceB4]),
    ...traceSeries(5, 0, [sodiumTraceBase1, sodiumTraceBase2, sodiumTraceBase3, sodiumTraceBase4]),
    ...traceSeries(5, 1, [sodiumTraceAB1, sodiumTraceAB2, sodiumTraceAB3, sodiumTraceAB4]),
    ...traceSeries(5, 2, [sodiumTraceA1, sodiumTraceA2, sodiumTraceA3, sodiumTraceA4]),
    ...traceSeries(5, 3, [sodiumTraceB1, sodiumTraceB2, sodiumTraceB3, sodiumTraceB4])
  ],
  graphic:{elements:[
    txt(9, 25, '(a)', '22px "Liberation Sans"', 'left'),
    txt(660, 25, '(b)', '22px "Liberation Sans"', 'left'),
    txt(15, 484, '(c)', '22px "Liberation Sans"', 'left'),
    txt(15, 790, '(d)', '22px "Liberation Sans"', 'left'),
    txt(342, 25, 'Puromycin: RELOO Score Intervals', '22px "Liberation Sans"', 'center'),
    txt(971, 25, 'Sodium Butyrate: RELOO Score Intervals', '22px "Liberation Sans"', 'center'),
    txt(344, 485, '{n|Puromycin: posterior characteristic time (}{t|\u03c4}{s|C}{n|)}', '22px "Liberation Sans"', 'center', tauRich(LS, 22, 15)),
    txt(344, 792, '{n|Sodium Butyrate: posterior characteristic time (}{t|\u03c4}{s|C}{n|)}', '22px "Liberation Sans"', 'center', tauRich(LS, 22, 15)),
    txt(992, 487, '{n|Puromycin: posterior sample trace of }{t|\u03c4}{s|C}', '22px "DejaVu Sans"', 'center', tauRich(DJ, 21.5, 15)),
    txt(989, 795, '{n|Sodium Butyrate: posterior sample trace of }{t|\u03c4}{s|C}', '20px "DejaVu Sans"', 'center', tauRich(DJ, 19.5, 14))
  ]}
};
chart.setOption(option);
</script>
</body></html>
